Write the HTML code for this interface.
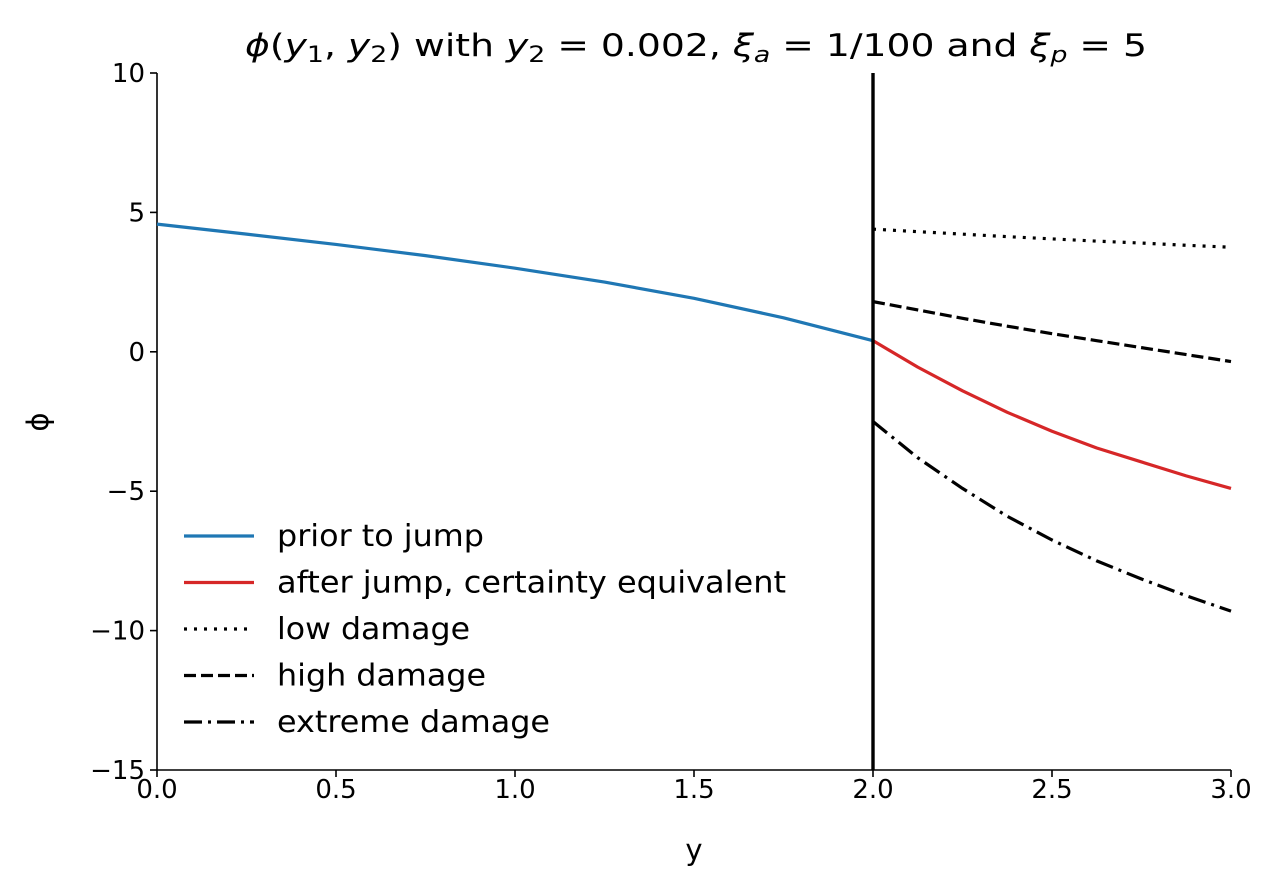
<!DOCTYPE html>
<html><head><meta charset="utf-8"><style>
body{margin:0;background:#fff;}
svg text{font-family:"DejaVu Sans","Liberation Sans",sans-serif;}
</style></head><body>
<svg id="chart" width="1280" height="891" viewBox="0 0 1280 891" xmlns="http://www.w3.org/2000/svg">
<text x="245" y="56" font-size="31" textLength="902" lengthAdjust="spacingAndGlyphs"><tspan font-style="italic">ϕ</tspan>(<tspan font-style="italic">y</tspan><tspan font-size="22" dy="6">1</tspan><tspan dy="-6">, </tspan><tspan font-style="italic">y</tspan><tspan font-size="22" dy="6">2</tspan><tspan dy="-6">) with </tspan><tspan font-style="italic">y</tspan><tspan font-size="22" dy="6">2</tspan><tspan dy="-6"> = 0.002,  </tspan><tspan font-style="italic">ξ</tspan><tspan font-size="22" font-style="italic" dy="6">a</tspan><tspan dy="-6"> = 1/100 and </tspan><tspan font-style="italic">ξ</tspan><tspan font-size="22" font-style="italic" dy="6">p</tspan><tspan dy="-6"> = 5</tspan></text>
<g id="axes"></g>
<g id="marks"></g>
<g id="legend"></g>
</svg>
<script>
const xTicks=[0,0.5,1,1.5,2,2.5,3];
const xTickLabels=["0.0","0.5","1.0","1.5","2.0","2.5","3.0"];
const yTicks=[10,5,0,-5,-10,-15];
const yTickLabels=["10","5","0","\u22125","\u221210","\u221215"];
const priorX=[0,0.25,0.5,0.75,1,1.25,1.5,1.75,2];
const priorY=[4.58,4.22,3.85,3.45,3.0,2.5,1.92,1.22,0.4];
const postX=[2,2.125,2.25,2.375,2.5,2.625,2.75,2.875,3];
const ceY=[0.4,-0.55,-1.4,-2.17,-2.85,-3.45,-3.95,-4.45,-4.9];
const lowY=[4.4,4.31,4.22,4.13,4.05,3.97,3.9,3.82,3.75];
const highY=[1.8,1.5,1.2,0.92,0.65,0.4,0.15,-0.1,-0.35];
const extY=[-2.5,-3.8,-4.9,-5.9,-6.75,-7.5,-8.15,-8.75,-9.3];
const jumpX=2;
const NS="http://www.w3.org/2000/svg";
const X0=157,X1=1231,Y0=73,Y1=770;
const xs=v=>X0+(v-0)/(3-0)*(X1-X0);
const ys=v=>Y0+(10-v)/(10-(-15))*(Y1-Y0);
function mk(tag,attrs,parent){const e=document.createElementNS(NS,tag);for(const k in attrs)e.setAttribute(k,attrs[k]);parent.appendChild(e);return e;}
const axes=document.getElementById('axes'),marks=document.getElementById('marks'),leg=document.getElementById('legend');
let a=mk('line',{x1:X0,y1:Y0,x2:X0,y2:Y1,stroke:'#000','stroke-width':1.6},axes);

a=mk('line',{x1:X0,y1:Y1,x2:X1,y2:Y1,stroke:'#000','stroke-width':1.6},axes);

xTicks.forEach((v,i)=>{mk('line',{x1:xs(v),y1:Y1,x2:xs(v),y2:Y1+7,stroke:'#000','stroke-width':1.6},axes);
 const t=mk('text',{x:xs(v),y:Y1+28,'font-size':26,'text-anchor':'middle'},axes);t.textContent=xTickLabels[i];
 });
yTicks.forEach((v,i)=>{mk('line',{x1:X0-7,y1:ys(v),x2:X0,y2:ys(v),stroke:'#000','stroke-width':1.6},axes);
 const t=mk('text',{x:X0-12,y:ys(v)+9,'font-size':26,'text-anchor':'end'},axes);t.textContent=yTickLabels[i];
 });
let t=mk('text',{x:694,y:860,'font-size':29,'text-anchor':'middle'},axes);t.textContent='y';

t=mk('text',{x:48,y:422,'font-size':29,'text-anchor':'middle',transform:'rotate(-90 48 422)'},axes);t.textContent='ϕ';

function line(xa,ya,color,dash,name){const d=xa.map((x,i)=>(i?'L':'M')+xs(x)+','+ys(ya[i])).join(' ');
 const p=mk('path',{d:d,fill:'none',stroke:color,'stroke-width':3.2,'stroke-dasharray':dash,'stroke-linejoin':'round'},marks);
 }
line(priorX,priorY,'#1f77b4','none','prior-line');
line(postX,lowY,'#000','3,7','low-damage-line');
line(postX,highY,'#000','12,5','high-damage-line');
line(postX,extY,'#000','18,6,3,6','extreme-damage-line');
line(postX,ceY,'#d62728','none','certainty-equivalent-line');
let v=mk('line',{x1:xs(jumpX),y1:Y0,x2:xs(jumpX),y2:Y1,stroke:'#000','stroke-width':3.4},marks);

const legNames=["prior to jump","after jump, certainty equivalent","low damage","high damage","extreme damage"];
const legWidths=[207,509,193,209,273];
const legStyle=[['#1f77b4','none'],['#d62728','none'],['#000','3,7'],['#000','12,5'],['#000','18,6,3,6']];
legNames.forEach((n,i)=>{const y=536+i*46.5;
 mk('line',{x1:184,y1:y,x2:254,y2:y,stroke:legStyle[i][0],'stroke-width':3.2,'stroke-dasharray':legStyle[i][1]},leg);
 const tt=mk('text',{x:277,y:y+10,'font-size':30,textLength:legWidths[i],lengthAdjust:'spacingAndGlyphs'},leg);tt.textContent=n;
 });
</script>
</body></html>
